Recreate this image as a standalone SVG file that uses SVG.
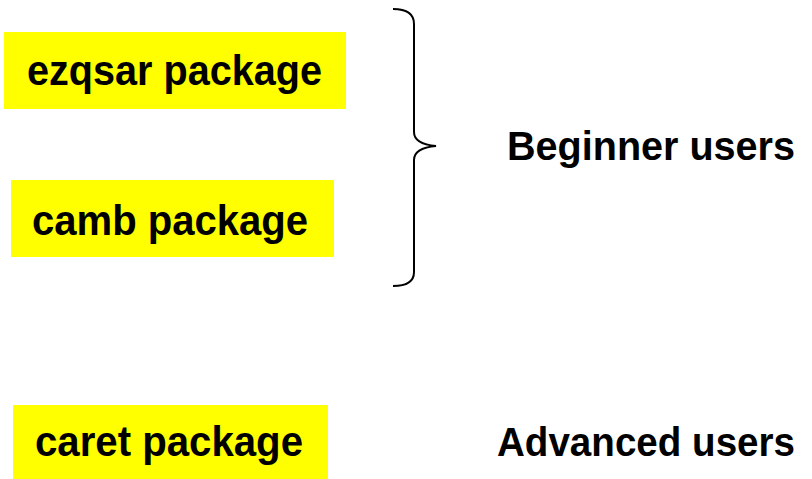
<svg xmlns="http://www.w3.org/2000/svg" width="812" height="479" viewBox="0 0 812 479">
<style>
.box{fill:#ffff00;stroke:none}
.t{font-family:"Liberation Sans",Arial,sans-serif;font-weight:bold;font-size:43px;fill:#000}
.u{font-size:40px}
.brace{fill:none;stroke:#000;stroke-width:2}
</style>
<rect width="812" height="479" fill="#fff"/>
<g id="ezqsar">
<rect class="box" x="4" y="32" width="342" height="77"/>
<text class="t" x="27" y="85" textLength="295" lengthAdjust="spacingAndGlyphs">ezqsar package</text>
</g>
<g id="camb">
<rect class="box" x="11" y="180" width="323" height="77"/>
<text class="t" x="32" y="235" textLength="276" lengthAdjust="spacingAndGlyphs">camb package</text>
</g>
<g id="caret">
<rect class="box" x="13" y="405" width="315" height="74"/>
<text class="t" x="35" y="456" textLength="268" lengthAdjust="spacingAndGlyphs">caret package</text>
</g>
<g id="beginner">
<text class="t u" x="507" y="160" textLength="288" lengthAdjust="spacingAndGlyphs">Beginner users</text>
</g>
<g id="advanced">
<text class="t u" x="497" y="456" textLength="298" lengthAdjust="spacingAndGlyphs">Advanced users</text>
</g>
<g id="connectors">
<path class="brace" d="M393,9 Q414,9 414,24 L414,132 Q414,144 436,146 Q414,148 414,160 L414,272 Q414,286 393,286"/>
</g>
</svg>
